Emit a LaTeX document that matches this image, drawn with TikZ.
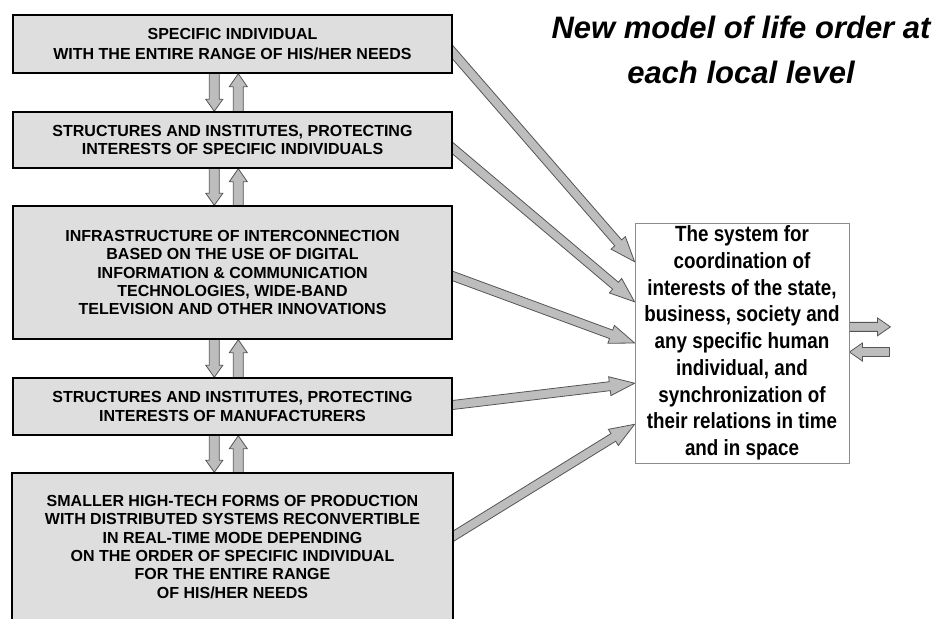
\documentclass[tikz,border=0pt]{standalone}
\usepackage{fontspec}
\setmainfont{Liberation Sans}
\newfontfamily\narrowfont[FakeStretch=0.855]{Liberation Sans}
\usetikzlibrary{calc}
\pgfdeclarelayer{bg}
\pgfsetlayers{bg,main}
\definecolor{boxfill}{HTML}{DEDEDE}
\definecolor{arrfill}{HTML}{BDBDBD}
\definecolor{arrline}{HTML}{555555}
\definecolor{sysline}{HTML}{8C8C8C}
\newcommand{\fatarrow}[5]{%
  \begin{pgfonlayer}{bg}
  \coordinate (fac) at ($(#2)!#5!(#1)$);
  \filldraw[fatarr] ($(#1)!#3!90:(#2)$) -- ($(fac)!#3!90:(#2)$) -- ($(fac)!#4!90:(#2)$) -- (#2)
     -- ($(fac)!#4!-90:(#2)$) -- ($(fac)!#3!-90:(#2)$) -- ($(#1)!#3!-90:(#2)$) -- cycle;
  \end{pgfonlayer}}
\begin{document}
\begin{tikzpicture}[x=1pt,y=-1pt,
  box/.style={draw=black, line width=1.4pt, fill=boxfill, minimum width=439pt,
    align=center, inner sep=0pt, font={\fontsize{16}{18.3}\selectfont\bfseries}},
  fatarr/.style={fill=arrfill, draw=arrline, line width=0.8pt, line join=miter},
  sysbox/.style={draw=sysline, line width=0.8pt, fill=white, minimum width=214pt,
    minimum height=240pt, align=center, inner sep=0pt,
    font={\narrowfont\fontsize{22}{26.7}\selectfont\bfseries}},
  titlestyle/.style={anchor=base, inner sep=0pt, font={\fontsize{31}{44}\selectfont\bfseries\itshape}}]
\useasboundingbox (0,0) rectangle (938,619);

\node[box, minimum height=58pt, font={\fontsize{16}{20.7}\selectfont\bfseries}] (b1) at (232.5,44)
  {SPECIFIC INDIVIDUAL\\WITH THE ENTIRE RANGE OF HIS/HER NEEDS};
\node[box, minimum height=56pt] (b2) at (232.5,140)
  {STRUCTURES AND INSTITUTES, PROTECTING\\INTERESTS OF SPECIFIC INDIVIDUALS};
\node[box, minimum height=133pt] (b3) at (232.5,272.5)
  {INFRASTRUCTURE OF INTERCONNECTION\\BASED ON THE USE OF DIGITAL\\INFORMATION \& COMMUNICATION\\TECHNOLOGIES, WIDE-BAND\\TELEVISION AND OTHER INNOVATIONS};
\node[box, minimum height=57pt] (b4) at (232.5,406.5)
  {STRUCTURES AND INSTITUTES, PROTECTING\\INTERESTS OF MANUFACTURERS};
\node[box, minimum height=148pt, minimum width=441pt] (b5) at (232.5,547)
  {SMALLER HIGH-TECH FORMS OF PRODUCTION\\WITH DISTRIBUTED SYSTEMS RECONVERTIBLE\\IN REAL-TIME MODE DEPENDING\\ON THE ORDER OF SPECIFIC INDIVIDUAL\\FOR THE ENTIRE RANGE\\OF HIS/HER NEEDS};

\node[sysbox] (sys) at (742,343)
  {The system for\\coordination of\\interests of the state,\\business, society and\\any specific human\\individual, and\\synchronization of\\their relations in time\\and in space};

\node[titlestyle] (t1) at (741,38) {New model of life order at};
\node[titlestyle] (t2) at (741,83) {each local level};

% vertical double arrows
\foreach \u/\l in {b1/b2, b2/b3, b3/b4, b4/b5} {
  \coordinate (ds) at ($(\u.south west)+(202,-4)$);
  \coordinate (dt) at (ds |- \l.north);
  \coordinate (ut) at ($(\u.south west)+(226,0)$);
  \coordinate (us) at ($(ut |- \l.north)+(0,4)$);
  \fatarrow{ds}{dt}{5pt}{8.5pt}{12pt}
  \fatarrow{us}{ut}{5pt}{9pt}{13pt}
}

% diagonal arrows into the system box
\coordinate (a1) at ($(b1.north east)!0.64!(b1.south east)$);
\coordinate (a2) at ($(b2.north east)!0.643!(b2.south east)$);
\coordinate (a3) at ($(b3.north east)!0.526!(b3.south east)$);
\coordinate (a4) at ($(b4.north east)!0.474!(b4.south east)$);
\coordinate (a5) at ($(b5.north east)!0.426!(b5.south east)$);
\coordinate (e1) at ($(sys.north west)!0.1625!(sys.south west)$);
\coordinate (e2) at ($(sys.north west)!0.329!(sys.south west)$);
\coordinate (e3) at ($(sys.north west)!0.5!(sys.south west)$);
\coordinate (e4) at ($(sys.north west)!0.667!(sys.south west)$);
\coordinate (e5) at ($(sys.north west)!0.8375!(sys.south west)$);
\foreach \i in {1,...,5} {
  \coordinate (s\i) at ($(a\i)!-10pt!(e\i)$);
  \fatarrow{s\i}{e\i}{4.5pt}{9.5pt}{25pt}
}

% side arrows
\coordinate (ra) at ($(sys.north east)!0.433!(sys.south east)$);
\coordinate (rs) at ($(ra)+(-3,0)$);
\coordinate (rt) at ($(ra)+(41,0)$);
\fatarrow{rs}{rt}{4.5pt}{9pt}{13pt}
\coordinate (lt) at ($(sys.north east)!0.5375!(sys.south east)$);
\coordinate (ls) at ($(lt)+(40,0)$);
\fatarrow{ls}{lt}{4.5pt}{9pt}{13pt}
\end{tikzpicture}
\end{document}
